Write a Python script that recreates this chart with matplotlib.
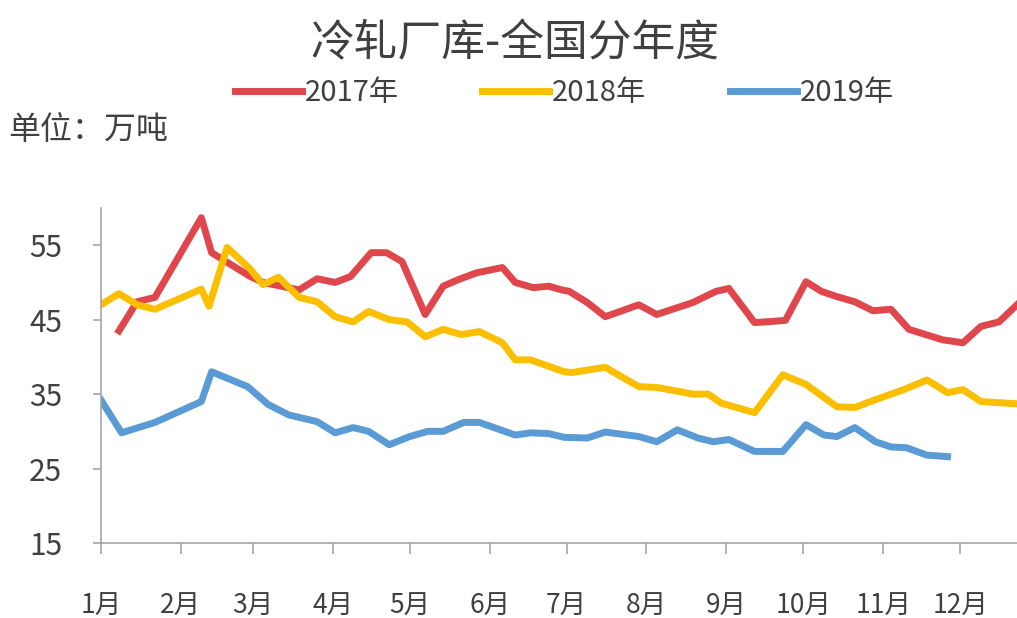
import matplotlib
matplotlib.use("Agg")
import matplotlib.pyplot as plt

plt.rcParams['font.family'] = ['Noto Sans CJK SC', 'DejaVu Sans']

# day of year (0 = Jan 1) and stock in 10k tonnes
days_2017 = [7, 14, 21, 39, 43, 58, 63, 77, 84, 91, 97, 105, 111, 117, 126, 133,
             139, 146, 156, 161, 168, 174, 179, 182, 189, 196, 209, 216, 230, 239,
             244, 254, 266, 274, 280, 286, 293, 300, 307, 314, 327, 335, 342, 349, 356]
vals_2017 = [43.5, 47.4, 48.0, 58.7, 54.0, 50.8, 50.0, 49.0, 50.5, 50.0, 50.8, 54.0,
             54.0, 52.8, 45.7, 49.5, 50.4, 51.3, 52.0, 50.0, 49.3, 49.5, 49.0, 48.8,
             47.3, 45.4, 47.0, 45.7, 47.3, 48.8, 49.2, 44.6, 44.9, 50.1, 48.8, 48.1,
             47.4, 46.2, 46.4, 43.7, 42.3, 41.9, 44.1, 44.7, 47.0]

days_2018 = [0, 7, 14, 21, 39, 42, 49, 58, 63, 69, 77, 84, 91, 98, 104, 112, 119,
             126, 133, 140, 147, 156, 161, 167, 180, 183, 196, 209, 216, 230, 236,
             241, 254, 265, 274, 286, 293, 299, 312, 321, 329, 335, 342, 356]
vals_2018 = [47.0, 48.5, 47.0, 46.4, 49.1, 46.8, 54.7, 51.8, 49.7, 50.7, 48.0, 47.4,
             45.4, 44.7, 46.1, 45.0, 44.7, 42.7, 43.7, 43.0, 43.4, 41.9, 39.6, 39.6,
             38.0, 37.9, 38.6, 36.0, 35.9, 35.0, 35.0, 33.8, 32.5, 37.6, 36.3, 33.3,
             33.2, 34.0, 35.6, 36.9, 35.2, 35.6, 34.0, 33.7]

days_2019 = [0, 8, 21, 39, 43, 57, 65, 73, 84, 91, 98, 104, 112, 120, 127, 133,
             141, 147, 161, 167, 174, 180, 189, 196, 209, 216, 224, 232, 238, 244,
             254, 265, 274, 281, 286, 293, 301, 307, 313, 321, 329]
vals_2019 = [34.2, 29.8, 31.2, 34.0, 38.0, 36.0, 33.6, 32.2, 31.3, 29.8, 30.5, 30.0,
             28.2, 29.3, 30.0, 30.0, 31.2, 31.2, 29.5, 29.8, 29.7, 29.2, 29.1, 29.9,
             29.3, 28.6, 30.2, 29.1, 28.6, 28.9, 27.3, 27.3, 30.9, 29.5, 29.3, 30.5,
             28.6, 27.9, 27.8, 26.8, 26.6]

month_starts = [0, 31, 59, 90, 120, 151, 181, 212, 243, 273, 304, 334]
month_labels = ['1月', '2月', '3月', '4月', '5月', '6月', '7月', '8月', '9月', '10月', '11月', '12月']
y_ticks = [15, 25, 35, 45, 55]

text_color = '#404040'
axis_color = '#A6A6A6'

fig = plt.figure(figsize=(10.17, 6.18), dpi=100)
ax = fig.add_axes([0.0993, 0.1214, 0.9007, 0.542])

ax.plot(days_2017, vals_2017, color='#E0474C', lw=5, label='2017年', solid_joinstyle='round')
ax.plot(days_2018, vals_2018, color='#FBBF00', lw=5, label='2018年', solid_joinstyle='round')
ax.plot(days_2019, vals_2019, color='#5B9BD5', lw=5, label='2019年', solid_joinstyle='round')

ax.set_xlim(0, 356)
ax.set_ylim(15, 60)
ax.set_xticks(month_starts)
ax.set_xticklabels(month_labels)
ax.set_yticks(y_ticks)

for s in ['top', 'right']:
    ax.spines[s].set_visible(False)
for s in ['left', 'bottom']:
    ax.spines[s].set_color(axis_color)
    ax.spines[s].set_linewidth(1.2)

ax.tick_params(axis='x', colors=axis_color, labelcolor=text_color, labelsize=19,
               length=8, width=1.2, pad=28)
ax.tick_params(axis='y', colors=axis_color, labelcolor=text_color, labelsize=21.5,
               length=6, width=1.2, pad=22)

fig.text(0.506, 0.93, '冷轧厂库-全国分年度', ha='center', va='center',
         fontsize=31.5, color=text_color)
fig.text(0.008, 0.79, '单位：万吨', ha='left', va='center', fontsize=23, color=text_color)

fig.legend(loc='center', bbox_to_anchor=(0.555, 0.849), ncol=3, frameon=False,
           fontsize=21, handlelength=2.3, handletextpad=0.1, columnspacing=2.85,
           labelcolor=text_color)

fig.savefig('out.png', dpi=100)
